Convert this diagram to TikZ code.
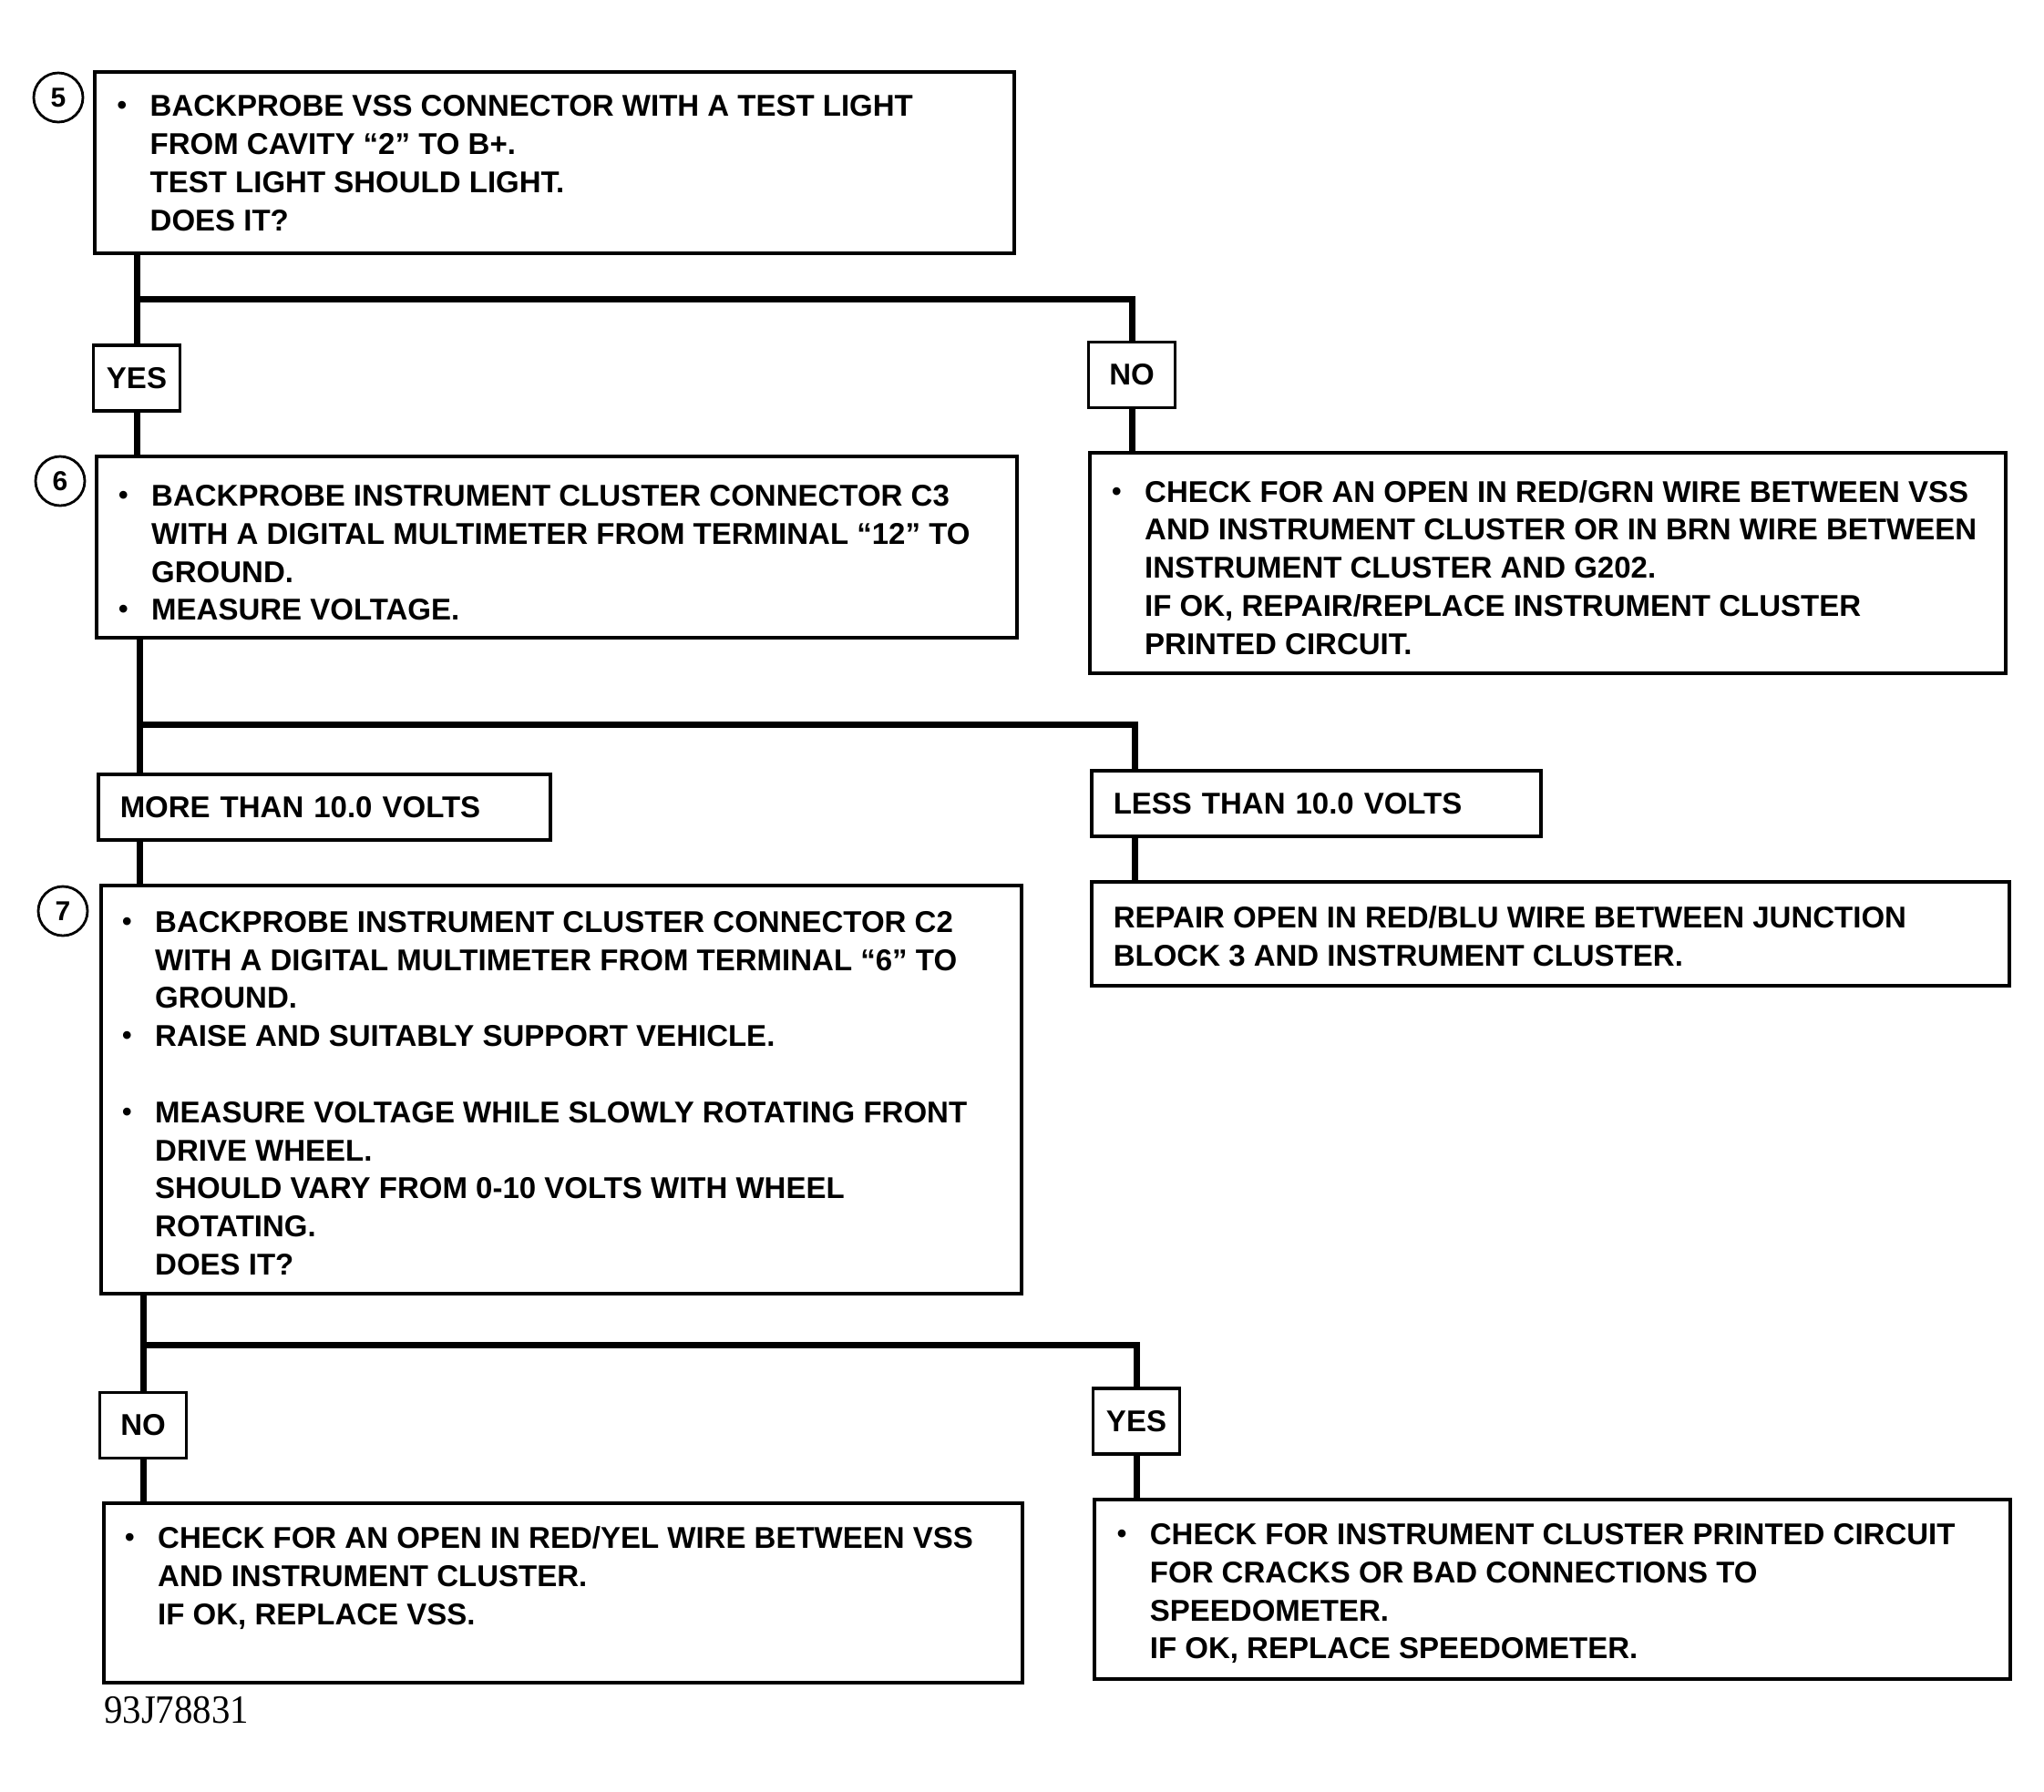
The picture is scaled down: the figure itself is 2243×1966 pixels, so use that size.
\documentclass[tikz,border=0pt]{standalone}
\usepackage{fontspec}
\setmainfont{Liberation Sans}
\newfontfamily\refserif{Liberation Serif}
\newcommand{\bul}{\raisebox{2pt}{\fontsize{30}{30}\selectfont\textbullet}}
\newcommand{\steplines}[1]{\begin{tabular}[t]{@{}p{36pt}@{}l@{}}#1\end{tabular}}
\begin{document}
\begin{tikzpicture}[x=1pt,y=-1pt,
  box/.style={draw, line width=3.5pt, rectangle, inner sep=0pt, anchor=north west},
  lab/.style={draw, fill=white, line width=3.5pt, rectangle, inner sep=0pt, minimum width=95pt, minimum height=72pt, font=\fontsize{33}{40}\selectfont\bfseries},
  vlab/.style={box, minimum height=72pt, inner xsep=24pt, inner ysep=0pt, align=left, font=\fontsize{33}{40}\selectfont\bfseries},
  txt/.style={anchor=base west, inner sep=0pt, font=\fontsize{33}{41.8}\selectfont\bfseries},
  conn/.style={line width=7pt},
  num/.style={draw, circle, line width=2.8pt, minimum size=54pt, inner sep=0pt, font=\fontsize{30}{30}\selectfont\bfseries}]
\useasboundingbox (0,0) rectangle (2243,1966);

% step 5
\node[num] (c5) at (64,107) {5};
\node[box, minimum width=1009pt, minimum height=199pt] (b5) at (102,77) {};
\node[txt] (t5) at (128.5,127.7) {\steplines{%
\bul & BACKPROBE VSS CONNECTOR WITH A TEST LIGHT\\
 & FROM CAVITY “2” TO B+.\\
 & TEST LIGHT SHOULD LIGHT.\\
 & DOES IT?}};

% answers to 5
\node[lab] (yes1) at (150,415) {YES};
\node[lab] (no1) at (1242,411.5) {NO};

% step 6
\node[num] (c6) at (66,528) {6};
\node[box, minimum width=1010pt, minimum height=199pt] (b6) at (104,499) {};
\node[txt] (t6) at (130,555.5) {\steplines{%
\bul & BACKPROBE INSTRUMENT CLUSTER CONNECTOR C3\\
 & WITH A DIGITAL MULTIMETER FROM TERMINAL “12” TO\\
 & GROUND.\\
\bul & MEASURE VOLTAGE.}};

% NO result of 5
\node[box, minimum width=1005pt, minimum height=242pt] (nr) at (1194,495) {};
\node[txt] (tnr) at (1220,551.1) {\steplines{%
\bul & CHECK FOR AN OPEN IN RED/GRN WIRE BETWEEN VSS\\
 & AND INSTRUMENT CLUSTER OR IN BRN WIRE BETWEEN\\
 & INSTRUMENT CLUSTER AND G202.\\
 & IF OK, REPAIR/REPLACE INSTRUMENT CLUSTER\\
 & PRINTED CIRCUIT.}};

% answers to 6
\node[vlab, text width=448pt] (more) at (106,848) {MORE THAN 10.0 VOLTS};
\node[vlab, text width=445pt] (less) at (1196,844) {LESS THAN 10.0 VOLTS};

% repair box
\node[box, minimum width=1007pt, minimum height=114pt] (rep) at (1196,966) {};
\node[txt] (trep) at (1221.6,1018.9) {\begin{tabular}[t]{@{}l@{}}%
REPAIR OPEN IN RED/BLU WIRE BETWEEN JUNCTION\\
BLOCK 3 AND INSTRUMENT CLUSTER.\end{tabular}};

% step 7
\node[num] (c7) at (69,1000) {7};
\node[box, minimum width=1010pt, minimum height=448pt] (b7) at (109,970) {};
\node[txt] (t7) at (134,1023.2) {\steplines{%
\bul & BACKPROBE INSTRUMENT CLUSTER CONNECTOR C2\\
 & WITH A DIGITAL MULTIMETER FROM TERMINAL “6” TO\\
 & GROUND.\\
\bul & RAISE AND SUITABLY SUPPORT VEHICLE.\\
 & \\
\bul & MEASURE VOLTAGE WHILE SLOWLY ROTATING FRONT\\
 & DRIVE WHEEL.\\
 & SHOULD VARY FROM 0-10 VOLTS WITH WHEEL\\
 & ROTATING.\\
 & DOES IT?}};

% answers to 7
\node[lab] (no2) at (157,1564.5) {NO};
\node[lab] (yes2) at (1247,1560) {YES};

% results of 7
\node[box, minimum width=1008pt, minimum height=197pt] (bl) at (112,1648) {};
\node[txt] (tbl) at (137,1699.8) {\steplines{%
\bul & CHECK FOR AN OPEN IN RED/YEL WIRE BETWEEN VSS\\
 & AND INSTRUMENT CLUSTER.\\
 & IF OK, REPLACE VSS.}};
\node[box, minimum width=1005pt, minimum height=197pt] (br) at (1199,1644) {};
\node[txt] (tbr) at (1225.7,1695.5) {\steplines{%
\bul & CHECK FOR INSTRUMENT CLUSTER PRINTED CIRCUIT\\
 & FOR CRACKS OR BAD CONNECTIONS TO\\
 & SPEEDOMETER.\\
 & IF OK, REPLACE SPEEDOMETER.}};

% figure number
\node[anchor=base west, inner sep=0pt, font=\refserif\fontsize{40}{40}\selectfont] (fig) at (114,1891) {\scalebox{1.02}[1.1]{93J78831}};

% connectors
\coordinate (j1) at (150,328);
\coordinate (k1) at (1242,328);
\draw[conn] (b5.south -| j1) -- (yes1.north);
\draw[conn] (yes1.south) -- (b6.north -| j1);
\draw[conn] (j1) -- (k1) -- (no1.north);
\draw[conn] (no1.south) -- (nr.north -| k1);

\coordinate (j2) at (153,795);
\coordinate (k2) at (1245,795);
\draw[conn] (b6.south -| j2) -- (more.north -| j2);
\draw[conn] (more.south -| j2) -- (b7.north -| j2);
\draw[conn] (j2) -- (k2) -- (less.north -| k2);
\draw[conn] (less.south -| k2) -- (rep.north -| k2);

\coordinate (j3) at (157,1476);
\coordinate (k3) at (1247,1476);
\draw[conn] (b7.south -| j3) -- (no2.north);
\draw[conn] (no2.south) -- (bl.north -| j3);
\draw[conn] (j3) -- (k3) -- (yes2.north);
\draw[conn] (yes2.south) -- (br.north -| k3);
\end{tikzpicture}
\end{document}
